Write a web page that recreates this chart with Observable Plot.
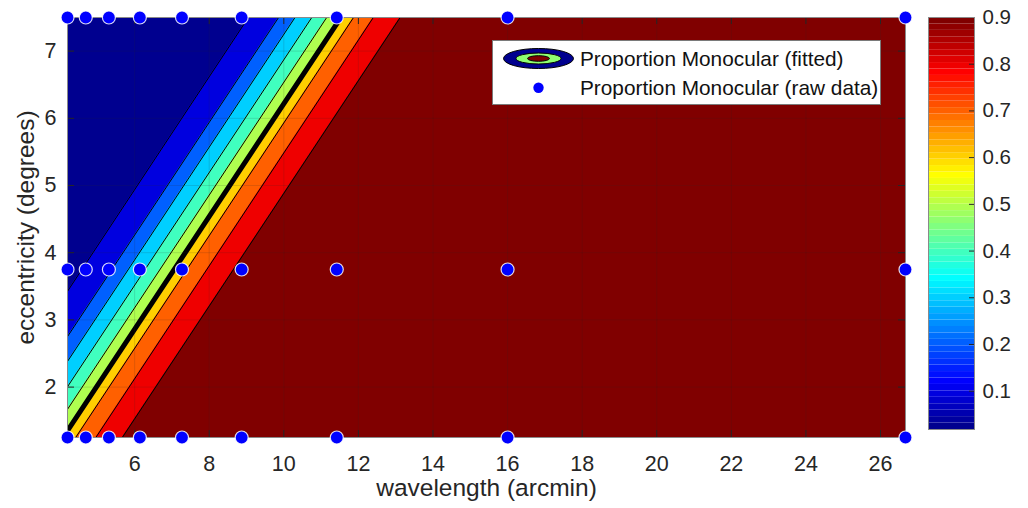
<!DOCTYPE html>
<html>
<head>
<meta charset="utf-8">
<script src="https://cdn.jsdelivr.net/npm/d3@7"></script>
<script src="https://cdn.jsdelivr.net/npm/@observablehq/plot@0.6"></script>
<style>
  body { margin: 0; background: #ffffff; }
  #wrap { position: relative; width: 1028px; height: 508px; overflow: hidden; background: #ffffff;
          font-family: "Liberation Sans", Arial, sans-serif; }
  #wrap > svg { position: absolute; top: 0; }
</style>
</head>
<body>
<div id="wrap"></div>
<script>
// ---------------- data ----------------
// fitted contour levels and where each level line meets the top (y = 7.5) and bottom (y = 1.25) of the plot
const contourLevels = [0.1, 0.2, 0.3, 0.4, 0.5, 0.6, 0.7, 0.8, 0.9];
const contourXAtTop = [9.05, 9.86, 10.30, 10.75, 11.15, 11.53, 11.87, 12.40, 13.12];
const contourXAtBottom = [1.61, 2.41, 2.85, 3.30, 3.70, 4.08, 4.42, 4.96, 5.67];
const thresholdLevel = 0.6; // heavy black contour

// raw data sample positions
const wavelengths = [4.2, 4.69, 5.31, 6.14, 7.27, 8.87, 11.42, 16.0, 26.67];
const eccentricities = [1.25, 3.75, 7.5];

// axes
const xDomain = [4.2, 26.67];
const yDomain = [1.25, 7.5];
const xTicks = [6, 8, 10, 12, 14, 16, 18, 20, 22, 24, 26];
const yTicks = [2, 3, 4, 5, 6, 7];
const colorDomain = [0.018, 0.9];
const colorTicks = [0.1, 0.2, 0.3, 0.4, 0.5, 0.6, 0.7, 0.8, 0.9];

const xLabel = "wavelength (arcmin)";
const yLabel = "eccentricity (degrees)";
const legendFitted = "Proportion Monocular (fitted)";
const legendRaw = "Proportion Monocular (raw data)";

// ---------------- helpers ----------------
// MATLAB jet(64) colormap, row index 0..63
function jetRow(i) {
  const k = i + 1;
  const u = j => (j < 1 || j > 47) ? 0 : (j <= 16 ? j / 16 : (j <= 31 ? 1 : (48 - j) / 16));
  const r = k >= 25 ? u(k - 24) : 0;
  const g = (k >= 9 && k <= 55) ? u(k - 8) : 0;
  const b = k <= 39 ? u(k + 8) : 0;
  return `rgb(${Math.round(r * 255)},${Math.round(g * 255)},${Math.round(b * 255)})`;
}
const jet64 = t => jetRow(Math.min(63, Math.max(0, Math.floor(t * 64))));
const colorScale = {type: "linear", domain: colorDomain, interpolate: jet64, clamp: true};
const ink = "#262626";
const font = "'Liberation Sans', Arial, sans-serif";

// ---------------- tables built from the arrays ----------------
const levelRows = contourLevels.flatMap((L, i) => [
  {level: L, y: yDomain[0], x: contourXAtBottom[i]},
  {level: L, y: yDomain[1], x: contourXAtTop[i]}
]);
const thresholdRows = levelRows.filter(d => d.level === thresholdLevel);
const baseRegion = [{value: colorDomain[0]}];
const rawPoints = eccentricities.flatMap(e => wavelengths.map(w => ({w, e})));

const frameW = 905 - 67, frameH = 437 - 17, tickLen = 7;

// ---------------- main chart ----------------
const main = Plot.plot({
  width: 1028,
  height: 508,
  marginLeft: 67,
  marginRight: 123,
  marginTop: 17,
  marginBottom: 71,
  style: {fontSize: "21.5px", fontFamily: font, color: ink, background: "transparent"},
  x: {domain: xDomain, ticks: xTicks, tickSize: 0, tickPadding: 18, tickFormat: d => String(d), label: null},
  y: {domain: yDomain, ticks: yTicks, tickSize: 0, tickPadding: 11, tickFormat: d => String(d), label: null},
  color: colorScale,
  marks: [
    Plot.rect(baseRegion, {x1: () => xDomain[0], x2: () => xDomain[1], y1: () => yDomain[0], y2: () => yDomain[1], fill: "value"}),
    Plot.areaX(levelRows, {y: "y", x1: "x", x2: () => xDomain[1], z: "level", fill: "level", clip: true}),
    Plot.line(levelRows, {x: "x", y: "y", z: "level", stroke: "#000", strokeWidth: 1, clip: true}),
    Plot.line(thresholdRows, {x: "x", y: "y", stroke: "#000", strokeWidth: 5, clip: true}),
    Plot.ruleX(xTicks, {stroke: ink, strokeOpacity: 0.15}),
    Plot.ruleY(yTicks, {stroke: ink, strokeOpacity: 0.15}),
    Plot.ruleX(xTicks, {stroke: ink, insetTop: frameH - tickLen}),
    Plot.ruleX(xTicks, {stroke: ink, insetBottom: frameH - tickLen}),
    Plot.ruleY(yTicks, {stroke: ink, insetRight: frameW - tickLen}),
    Plot.ruleY(yTicks, {stroke: ink, insetLeft: frameW - tickLen}),
    Plot.frame({stroke: "#8a8a8a"}),
    Plot.dot(rawPoints, {x: "w", y: "e", r: 6.5, fill: "#0000ff", stroke: "#ffffff", strokeOpacity: 0.85, strokeWidth: 1.2}),
    Plot.text([xLabel], {text: d => d, frameAnchor: "bottom", textAnchor: "middle", dy: 58, fontSize: 24.5, fill: ink}),
    Plot.text([yLabel], {text: d => d, frameAnchor: "left", textAnchor: "middle", dx: -41, rotate: -90, fontSize: 24.5, fill: ink})
  ]
});
main.style.left = "0px";

// ---------------- colorbar ----------------
const nSteps = 64;
const cbStep = (colorDomain[1] - colorDomain[0]) / nSteps;
const cbCells = d3.range(nSteps).map(i => ({
  lo: colorDomain[0] + i * cbStep,
  hi: colorDomain[0] + (i + 1) * cbStep,
  mid: colorDomain[0] + (i + 0.5) * cbStep
}));
const cbWidth = 46;
const colorbar = Plot.plot({
  width: 108,
  height: 508,
  marginLeft: 8,
  marginRight: 108 - 8 - cbWidth,
  marginTop: 17,
  marginBottom: 79,
  style: {fontSize: "20.5px", fontFamily: font, color: ink, background: "transparent"},
  x: {domain: [0, 1], axis: null},
  y: {domain: colorDomain, axis: "right", ticks: colorTicks, tickSize: 0, tickPadding: 8, tickFormat: d => d.toFixed(1), label: null},
  color: colorScale,
  marks: [
    Plot.rect(cbCells, {x1: () => 0, x2: () => 1, y1: "lo", y2: "hi", fill: "mid"}),
    Plot.ruleY(colorTicks, {stroke: ink, insetLeft: cbWidth - 5}),
    Plot.frame({stroke: "#8a8a8a"})
  ]
});
colorbar.style.left = "920px";

// ---------------- legend ----------------
const legend = d3.create("svg")
  .attr("width", 1028).attr("height", 508)
  .style("left", "0px").style("pointer-events", "none");
legend.append("rect")
  .attr("x", 492.5).attr("y", 40.5).attr("width", 388).attr("height", 64)
  .attr("fill", "#fff").attr("stroke", "#7a7a7a").attr("stroke-width", 1);
const icon = legend.append("g").attr("transform", "translate(538.5,58.5)");
icon.append("ellipse").attr("rx", 35).attr("ry", 10).attr("fill", jetRow(0)).attr("stroke", "#000");
icon.append("ellipse").attr("rx", 22.5).attr("ry", 5.5).attr("fill", jetRow(32)).attr("stroke", "#000");
icon.append("ellipse").attr("rx", 11).attr("ry", 2.8).attr("fill", jetRow(63)).attr("stroke", "#000");
legend.append("circle").attr("cx", 538.5).attr("cy", 87.7).attr("r", 5.2).attr("fill", "#0000ff");
legend.selectAll("text.item")
  .data([[legendFitted, 58.5], [legendRaw, 87.7]])
  .join("text")
  .attr("class", "item")
  .attr("x", 580).attr("y", d => d[1]).attr("dy", "0.35em")
  .attr("font-family", font).attr("font-size", 20.8).attr("fill", "#111")
  .text(d => d[0]);

const wrap = document.getElementById("wrap");
wrap.appendChild(main);
wrap.appendChild(colorbar);
wrap.appendChild(legend.node());
</script>
</body>
</html>
